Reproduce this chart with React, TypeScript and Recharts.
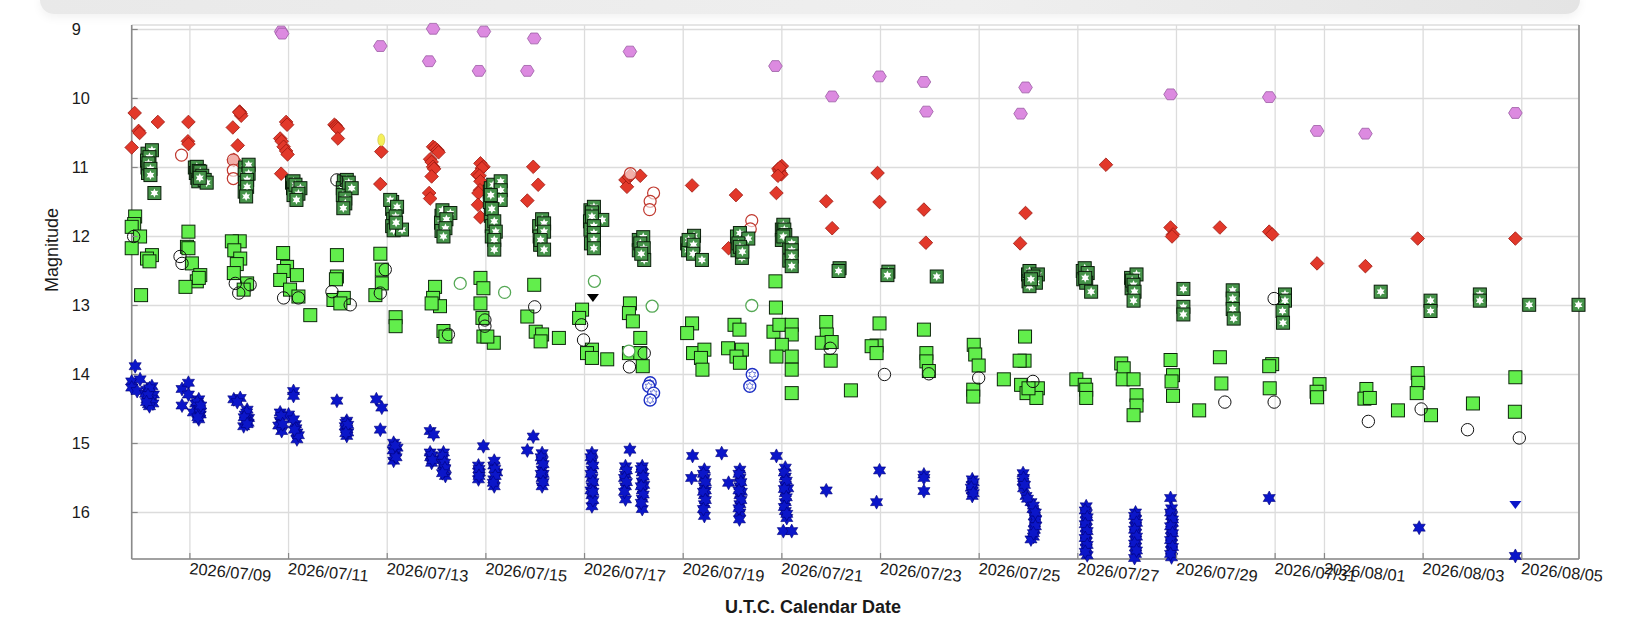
import { ScatterChart, Scatter, XAxis, YAxis, CartesianGrid } from 'recharts'

type Pt = [number, number]

// x = day of July 2026 (32 = Aug 1), y = magnitude
const xTicks = [9, 11, 13, 15, 17, 19, 21, 23, 25, 27, 29, 31, 32, 34, 36]
const xTickLabels = [
  '2026/07/09', '2026/07/11', '2026/07/13', '2026/07/15', '2026/07/17',
  '2026/07/19', '2026/07/21', '2026/07/23', '2026/07/25', '2026/07/27',
  '2026/07/29', '2026/07/31', '2026/08/01', '2026/08/03', '2026/08/05',
]
const yTicks = [9, 10, 11, 12, 13, 14, 15, 16]

const hexPts: Pt[] = [
  [10.85, 9.03], [10.87, 9.06], [12.86, 9.24], [13.93, 8.99], [13.85, 9.46], [14.96, 9.03],
  [14.86, 9.6], [15.98, 9.13], [15.84, 9.6], [17.92, 9.32], [20.87, 9.53], [22.02, 9.97],
  [22.98, 9.68], [23.88, 9.76], [23.93, 10.19], [25.94, 9.84], [25.84, 10.22], [28.88, 9.94],
  [30.88, 9.98], [31.85, 10.47], [32.83, 10.51], [35.87, 10.21],
]

const diamondPts: Pt[] = [
  [7.88, 10.21], [7.96, 10.47], [7.98, 10.5], [7.82, 10.71], [8.35, 10.34], [8.97, 10.34],
  [8.96, 10.62], [8.97, 10.66], [9.87, 10.42], [10.01, 10.19], [10.03, 10.22], [10.04, 10.25],
  [10.0, 10.2], [9.97, 10.68], [9.89, 10.89], [10.95, 10.34], [10.97, 10.38], [10.83, 10.58],
  [10.86, 10.62], [10.9, 10.7], [10.95, 10.76], [10.98, 10.81], [10.85, 11.09],
  [11.93, 10.38], [11.96, 10.4], [11.98, 10.42], [12.0, 10.44], [12.0, 10.58],
  [12.88, 10.77], [12.86, 11.24], [13.93, 10.7], [13.97, 10.72], [14.02, 10.75], [14.04, 10.78],
  [13.87, 10.88], [13.9, 10.92], [13.93, 10.99], [13.95, 11.02], [13.9, 11.13], [13.85, 11.37],
  [13.87, 11.45], [14.89, 10.94], [14.95, 10.99], [14.92, 11.01], [14.83, 11.1], [14.87, 11.12],
  [14.89, 11.2], [14.88, 11.33], [14.85, 11.37], [14.84, 11.54], [14.89, 11.72],
  [15.96, 10.99], [16.06, 11.25], [15.84, 11.48], [17.83, 11.18], [17.86, 11.28], [17.9, 11.14],
  [17.93, 11.11], [18.13, 11.12], [19.18, 11.26], [20.07, 11.4], [19.92, 12.17],
  [20.93, 11.02], [20.95, 11.05], [20.97, 11.08], [20.99, 11.1], [21.0, 10.98], [20.96, 11.0],
  [20.92, 11.12], [20.89, 11.37], [21.9, 11.49], [22.02, 11.88], [22.94, 11.08], [22.98, 11.5],
  [23.88, 11.61], [23.92, 12.09], [25.94, 11.66], [25.83, 12.1], [27.57, 10.96], [28.88, 11.87],
  [28.93, 11.97], [28.91, 12.0], [29.88, 11.87], [30.88, 11.93], [30.94, 11.97], [31.85, 12.39],
  [32.83, 12.43], [33.89, 12.03], [35.87, 12.03],
]

const redRingPts: Pt[] = [
  [8.83, 10.82], [9.88, 10.89], [9.88, 11.04], [9.88, 11.16], [17.93, 11.09], [18.4, 11.37],
  [18.33, 11.49], [18.32, 11.61], [20.39, 11.77], [20.36, 11.89],
]

const greenSquarePts: Pt[] = [
  [7.89, 11.71], [7.87, 11.82], [7.82, 11.86], [7.99, 12.0], [7.82, 12.17], [8.23, 12.27],
  [8.13, 12.32], [8.18, 12.36], [8.01, 12.85], [8.97, 11.93], [8.94, 12.15], [8.97, 12.17],
  [9.04, 12.39], [9.21, 12.56], [9.14, 12.65], [9.18, 12.6], [8.91, 12.73], [10.01, 12.07],
  [9.85, 12.07], [9.9, 12.2], [10.02, 12.32], [9.95, 12.4], [9.89, 12.53], [10.16, 12.68],
  [10.09, 12.77], [10.89, 12.24], [10.97, 12.44], [10.9, 12.5], [11.17, 12.56], [10.83, 12.63],
  [11.03, 12.77], [11.2, 12.87], [11.44, 13.14], [11.98, 12.27], [11.98, 12.58], [11.96, 12.62],
  [11.91, 12.92], [12.12, 12.89], [12.05, 12.97], [12.86, 12.25], [12.89, 12.48], [12.89, 12.68],
  [12.76, 12.85], [13.17, 13.17], [13.17, 13.3], [13.97, 12.73], [13.93, 12.89], [14.07, 13.01],
  [13.9, 12.97], [14.14, 13.37], [14.18, 13.45], [14.89, 12.6], [14.95, 12.75], [14.89, 12.97],
  [14.93, 13.18], [14.95, 13.45], [15.16, 13.54], [15.03, 13.45], [15.98, 12.7], [15.84, 13.16],
  [16.01, 13.38], [16.14, 13.42], [16.48, 13.47], [16.11, 13.52], [16.95, 13.06], [16.89, 13.18],
  [17.15, 13.64], [17.05, 13.69], [17.15, 13.76], [17.46, 13.78], [17.92, 12.97], [17.9, 13.11],
  [17.98, 13.23], [18.13, 13.47], [17.9, 13.69], [18.13, 13.69], [18.18, 13.88], [19.18, 13.26],
  [19.08, 13.4], [19.2, 13.69], [19.43, 13.64], [19.36, 13.76], [19.39, 13.93], [20.04, 13.28],
  [20.14, 13.35], [19.91, 13.62], [20.19, 13.64], [20.08, 13.74], [20.15, 13.83], [20.87, 12.65],
  [20.88, 13.03], [20.83, 13.38], [20.95, 13.28], [21.2, 13.28], [21.2, 13.42], [21.0, 13.57],
  [20.89, 13.74], [21.2, 13.74], [21.2, 13.93], [21.2, 14.27], [21.9, 13.24], [21.91, 13.42],
  [21.81, 13.54], [22.01, 13.53], [21.99, 13.8], [22.4, 14.23], [22.98, 13.26], [22.92, 13.58],
  [22.82, 13.59], [22.92, 13.69], [23.88, 13.35], [23.93, 13.69], [23.93, 13.81], [23.98, 13.95],
  [24.89, 13.57], [24.92, 13.71], [24.99, 13.87], [24.88, 14.22], [24.88, 14.32], [25.5, 14.07],
  [25.93, 13.45], [25.92, 13.8], [25.82, 13.8], [25.85, 14.15], [25.96, 14.27], [26.19, 14.2],
  [26.16, 14.34], [26.0, 14.2], [26.97, 14.07], [27.14, 14.15], [27.17, 14.22], [27.17, 14.34],
  [27.88, 13.84], [27.93, 13.91], [27.91, 14.07], [28.13, 14.07], [28.19, 14.3], [28.19, 14.45],
  [28.13, 14.59], [28.88, 13.79], [28.93, 14.01], [28.9, 14.1], [28.93, 14.31], [29.46, 14.52],
  [29.88, 13.75], [29.91, 14.13], [30.94, 13.85], [30.88, 13.88], [30.89, 14.2], [31.9, 14.14],
  [31.84, 14.25], [31.85, 14.33], [32.85, 14.21], [32.81, 14.35], [32.92, 14.34], [33.49, 14.52],
  [33.89, 13.98], [33.9, 14.12], [33.87, 14.27], [34.16, 14.59], [35.01, 14.42], [35.87, 14.04],
  [35.86, 14.54],
]

const starSquarePts: Pt[] = [
  [8.14, 10.8], [8.13, 10.9], [8.14, 11.0], [8.15, 11.08],
  [8.23, 10.75], [8.18, 10.85], [8.16, 10.94], [8.2, 11.02], [8.2, 11.11], [8.28, 11.37],
  [9.1, 11.0], [9.12, 11.08], [9.15, 11.15], [9.17, 11.2],
  [9.14, 10.99], [9.18, 11.05], [9.21, 11.06], [9.25, 11.12], [9.3, 11.18], [9.34, 11.22],
  [9.2, 11.15], [10.12, 11.0], [10.11, 11.1], [10.12, 11.22], [10.11, 11.35],
  [10.19, 10.96], [10.19, 11.09], [10.16, 11.18], [10.16, 11.28], [10.14, 11.42],
  [11.07, 11.22], [11.09, 11.3], [11.1, 11.4],
  [11.1, 11.2], [11.14, 11.25], [11.24, 11.3], [11.2, 11.38], [11.16, 11.47],
  [12.12, 11.2], [12.1, 11.3], [12.1, 11.4],
  [12.18, 11.18], [12.22, 11.22], [12.28, 11.3], [12.15, 11.45], [12.15, 11.52], [12.11, 11.59],
  [13.1, 11.5], [13.1, 11.6], [13.12, 11.75], [13.1, 11.85],
  [13.06, 11.47], [13.2, 11.57], [13.17, 11.71], [13.13, 11.91], [13.3, 11.9], [13.18, 11.8],
  [14.1, 11.7], [14.09, 11.8], [14.1, 11.92],
  [14.12, 11.62], [14.28, 11.66], [14.2, 11.75], [14.18, 11.88], [14.14, 12.0],
  [15.08, 11.35], [15.08, 11.5], [15.1, 11.7], [15.12, 11.85], [15.12, 12.0],
  [15.1, 11.3], [15.15, 11.25], [15.3, 11.2], [15.3, 11.33], [15.3, 11.47], [15.1, 11.4],
  [15.12, 11.6], [15.17, 11.78], [15.2, 11.93], [15.17, 12.05], [15.17, 12.19],
  [16.08, 11.85], [16.09, 12.0], [16.1, 12.12],
  [16.14, 11.75], [16.18, 11.81], [16.18, 11.93], [16.11, 12.05], [16.18, 12.19],
  [17.12, 11.62], [17.11, 11.78], [17.12, 11.9], [17.13, 12.1],
  [17.19, 11.57], [17.15, 11.65], [17.36, 11.76], [17.15, 11.71], [17.19, 11.85], [17.19, 11.95],
  [17.19, 12.05], [17.19, 12.17], [18.1, 12.05], [18.1, 12.2],
  [18.19, 12.01], [18.13, 12.1], [18.2, 12.17], [18.21, 12.34], [18.15, 12.25],
  [19.08, 12.1], [19.1, 12.2],
  [19.22, 11.99], [19.11, 12.05], [19.21, 12.12], [19.2, 12.25], [19.38, 12.34],
  [20.09, 12.0], [20.1, 12.2],
  [20.15, 11.95], [20.32, 12.03], [20.12, 12.1], [20.15, 12.15], [20.19, 12.31], [20.2, 12.22],
  [21.0, 11.9], [21.0, 12.05], [21.15, 12.15], [21.15, 12.35],
  [21.03, 11.83], [21.05, 11.9], [21.07, 11.98], [21.03, 12.0], [21.2, 12.1], [21.2, 12.2],
  [21.2, 12.29], [21.2, 12.43], [22.17, 12.46], [22.15, 12.5], [23.16, 12.51], [23.14, 12.56],
  [24.14, 12.58], [25.99, 12.55], [26.0, 12.65],
  [26.02, 12.5], [26.19, 12.55], [26.1, 12.58], [26.15, 12.67], [26.02, 12.72], [26.05, 12.62],
  [27.1, 12.5], [27.11, 12.62],
  [27.14, 12.46], [27.2, 12.53], [27.17, 12.67], [27.15, 12.6], [27.27, 12.8],
  [28.08, 12.6], [28.09, 12.75],
  [28.19, 12.55], [28.1, 12.64], [28.13, 12.7], [28.15, 12.8], [28.13, 12.93],
  [29.14, 12.76], [29.14, 13.02], [29.14, 13.13], [30.14, 12.78], [30.14, 12.9],
  [30.14, 13.05], [30.16, 13.19], [31.2, 12.84], [31.2, 12.93], [31.15, 13.08], [31.16, 13.25],
  [33.14, 12.8], [34.15, 12.93], [34.15, 13.08], [35.15, 12.84], [35.15, 12.93], [36.15, 12.99],
  [37.15, 12.99],
]

const blackRingPts: Pt[] = [
  [7.86, 12.0], [8.8, 12.29], [8.84, 12.39], [9.92, 12.68], [9.99, 12.82], [10.22, 12.7],
  [10.9, 12.89], [11.2, 12.89], [11.98, 11.18], [11.88, 12.8], [12.25, 12.99], [12.96, 12.48],
  [12.86, 12.82], [14.24, 13.42], [14.98, 13.21], [14.98, 13.3], [15.99, 13.02], [16.94, 13.28],
  [16.98, 13.5], [17.91, 13.89], [18.21, 13.69], [21.98, 13.62], [23.08, 14.0], [23.98, 13.99],
  [24.99, 14.05], [26.09, 14.1], [29.98, 14.4], [30.98, 14.4], [30.98, 12.9], [32.89, 14.68],
  [33.96, 14.5], [34.9, 14.8], [35.95, 14.92],
]

const greenRingPts: Pt[] = [
  [14.48, 12.68], [15.38, 12.81], [17.2, 12.65], [18.37, 13.01], [17.9, 13.66], [20.39, 13.0],
]

const blueStarPts: Pt[] = [
  [7.89, 13.88], [7.82, 14.1], [7.82, 14.19], [7.99, 14.07], [7.93, 14.24], [8.13, 14.22],
  [8.2, 14.31], [8.13, 14.36], [8.23, 14.17], [8.16, 14.43], [8.26, 14.29], [8.2, 14.4], [8.1, 14.28],
  [8.18, 14.2], [8.22, 14.35], [8.15, 14.3], [8.25, 14.42], [8.18, 14.46], [8.12, 14.4],
  [8.84, 14.21], [8.97, 14.12], [8.97, 14.29], [8.84, 14.45], [9.18, 14.36], [9.14, 14.48],
  [9.21, 14.58], [9.07, 14.55], [9.18, 14.65], [9.12, 14.42], [9.2, 14.5],
  [9.15, 14.4], [9.2, 14.55], [9.16, 14.62], [9.22, 14.45],
  [9.89, 14.36], [10.02, 14.34], [9.96, 14.4], [10.16, 14.51], [10.19, 14.63], [10.09, 14.75],
  [10.12, 14.58], [10.14, 14.68], [10.15, 14.55], [10.18, 14.7], [10.1, 14.62], [10.16, 14.72],
  [10.83, 14.55], [10.83, 14.67], [10.86, 14.82], [10.8, 14.74],
  [11.0, 14.58], [11.14, 14.72], [11.17, 14.84], [11.17, 14.94], [11.1, 14.65], [11.1, 14.24],
  [11.1, 14.31], [10.85, 14.6], [10.88, 14.72], [11.15, 14.78], [11.2, 14.88], [11.12, 14.8],
  [11.98, 14.38], [12.18, 14.67], [12.15, 14.75], [12.18, 14.79], [12.18, 14.89],
  [12.2, 14.84], [12.16, 14.7], [12.2, 14.73], [12.16, 14.85],
  [12.78, 14.36], [12.89, 14.48], [12.86, 14.8], [13.13, 14.99], [13.2, 15.06],
  [13.17, 15.13], [13.13, 15.25], [13.15, 15.18], [13.12, 15.1], [13.18, 15.2], [13.16, 15.03],
  [13.87, 14.82], [13.94, 14.87], [13.87, 15.13],
  [13.9, 15.28], [13.88, 15.2], [14.11, 15.23], [14.14, 15.13], [14.14, 15.32], [14.18, 15.47],
  [14.15, 15.4], [13.9, 15.17], [13.92, 15.24], [14.12, 15.18], [14.16, 15.28], [14.17, 15.36],
  [14.12, 15.43], [14.95, 15.04], [14.85, 15.32], [14.85, 15.52], [14.87, 15.42], [15.16, 15.32],
  [15.16, 15.52], [15.22, 15.42], [15.17, 15.62], [15.17, 15.25], [14.86, 15.37], [14.86, 15.47],
  [15.18, 15.37], [15.19, 15.47], [15.15, 15.57], [15.96, 14.9], [15.84, 15.1],
  [16.14, 15.14], [16.14, 15.25], [16.14, 15.38], [16.14, 15.5], [16.14, 15.62], [16.16, 15.44],
  [16.12, 15.2], [16.16, 15.3], [16.12, 15.44], [16.16, 15.56],
  [17.15, 15.14], [17.15, 15.25], [17.15, 15.38], [17.15, 15.5], [17.15, 15.62], [17.15, 15.75],
  [17.15, 15.91], [17.17, 15.82], [17.13, 15.2], [17.17, 15.32], [17.13, 15.44], [17.17, 15.56],
  [17.13, 15.68], [17.17, 15.7], [17.92, 15.09], [17.83, 15.33], [17.83, 15.45], [17.83, 15.62],
  [17.83, 15.81], [17.85, 15.39], [17.81, 15.5], [17.85, 15.56], [17.81, 15.7],
  [18.17, 15.33], [18.17, 15.42], [18.17, 15.55], [18.17, 15.68], [18.17, 15.8],
  [18.17, 15.95], [18.2, 15.6], [18.15, 15.37], [18.19, 15.48], [18.15, 15.62], [18.19, 15.74],
  [18.15, 15.86], [19.19, 15.18], [19.17, 15.5], [19.43, 15.38], [19.43, 15.5],
  [19.43, 15.62], [19.43, 15.75], [19.43, 15.88], [19.43, 16.05], [19.45, 15.68],
  [19.41, 15.44], [19.45, 15.56], [19.41, 15.7], [19.45, 15.82], [19.41, 15.95], [19.78, 15.14],
  [19.92, 15.57], [20.15, 15.38], [20.15, 15.5], [20.15, 15.62], [20.15, 15.75], [20.15, 15.88],
  [20.15, 16.0], [20.14, 16.1], [20.18, 15.7], [20.13, 15.44], [20.17, 15.56], [20.13, 15.68],
  [20.17, 15.82], [20.13, 15.94], [20.89, 15.18], [21.07, 15.35], [21.07, 15.48],
  [21.07, 15.6], [21.07, 15.72], [21.07, 15.85], [21.07, 15.98], [21.1, 16.08], [21.03, 16.27],
  [21.2, 16.27], [21.12, 15.65], [21.05, 15.42], [21.09, 15.54], [21.05, 15.66], [21.09, 15.78],
  [21.05, 15.92], [21.1, 16.02], [21.9, 15.68], [22.98, 15.39], [22.92, 15.85], [23.88, 15.45],
  [23.88, 15.5], [23.88, 15.69], [24.86, 15.52], [24.86, 15.6], [24.86, 15.68], [24.86, 15.76],
  [24.88, 15.56], [24.84, 15.64], [24.88, 15.72],
  [25.89, 15.43], [25.89, 15.55], [25.9, 15.65], [25.95, 15.76], [26.05, 15.85], [26.09, 15.95],
  [26.12, 16.05], [26.12, 16.15], [26.12, 16.25], [26.1, 16.35], [26.05, 16.39], [26.15, 16.1],
  [25.9, 15.5], [25.92, 15.6], [25.98, 15.8], [26.1, 15.9], [26.14, 16.0], [26.14, 16.2], [26.1, 16.3],
  [27.17, 15.91], [27.17, 16.02], [27.17, 16.12], [27.17, 16.22], [27.17, 16.32], [27.17, 16.42],
  [27.17, 16.52], [27.19, 16.62], [27.15, 15.97], [27.19, 16.07], [27.15, 16.17], [27.19, 16.27],
  [27.15, 16.37], [27.19, 16.47], [27.15, 16.57],
  [28.17, 16.0], [28.17, 16.1], [28.17, 16.2], [28.17, 16.3],
  [28.17, 16.4], [28.17, 16.5], [28.17, 16.6], [28.15, 16.66], [28.15, 16.05], [28.19, 16.15],
  [28.15, 16.25], [28.19, 16.35], [28.15, 16.45], [28.19, 16.55],
  [28.88, 15.79], [28.9, 15.94],
  [28.9, 16.05], [28.92, 16.15], [28.9, 16.25], [28.9, 16.35], [28.9, 16.45], [28.9, 16.55],
  [28.9, 16.65], [28.88, 16.0], [28.92, 16.1], [28.88, 16.2], [28.92, 16.3], [28.88, 16.4],
  [28.92, 16.5], [28.88, 16.6], [30.88, 15.79], [33.92, 16.22], [35.87, 16.63],
]

const blueRingPts: Pt[] = [
  [18.33, 14.12], [18.3, 14.17], [18.4, 14.27], [18.33, 14.37], [20.4, 14.0], [20.35, 14.17],
]
const blueTrianglePts: Pt[] = [[35.87, 15.89]]
const blackTrianglePts: Pt[] = [[17.17, 12.89]]
const yellowPts: Pt[] = [[12.88, 10.6]]

const toRows = (a: Pt[]) => a.map(([x, y]) => ({ x, y }))

const FONT = '"Liberation Sans", Arial, sans-serif'

function starPath(cx: number, cy: number, ro: number, ri: number) {
  let d = ''
  for (let i = 0; i < 12; i++) {
    const r = i % 2 ? ri : ro
    const a = -Math.PI / 2 + (i * Math.PI) / 6
    d += (i ? 'L' : 'M') + (cx + r * Math.cos(a)).toFixed(2) + ' ' + (cy + r * Math.sin(a)).toFixed(2)
  }
  return d + 'Z'
}

function hexPath(cx: number, cy: number, r: number) {
  let d = ''
  for (let i = 0; i < 6; i++) {
    const a = (i * Math.PI) / 3
    d += (i ? 'L' : 'M') + (cx + r * Math.cos(a)).toFixed(2) + ' ' + (cy + r * 0.92 * Math.sin(a)).toFixed(2)
  }
  return d + 'Z'
}

const Hex = (p: any) => <path d={hexPath(p.cx, p.cy, 6.8)} fill="#dc8ae0" stroke="#9b5ca3" strokeWidth={0.8} />
const Diamond = (p: any) => (
  <path d={`M${p.cx} ${p.cy - 6.8}L${p.cx + 6.8} ${p.cy}L${p.cx} ${p.cy + 6.8}L${p.cx - 6.8} ${p.cy}Z`}
    fill="#e2382a" stroke="#9c1810" strokeWidth={0.8} />
)
const RedRing = (p: any) => <circle cx={p.cx} cy={p.cy} r={6} fill="#fff" fillOpacity={0.6} stroke="#c0392f" strokeWidth={1.2} />
const GreenSquare = (p: any) => (
  <rect x={p.cx - 6.5} y={p.cy - 6.5} width={13} height={13} fill="#62ee4c" stroke="#0c260a" strokeWidth={1} />
)
const StarSquare = (p: any) => (
  <g>
    <rect x={p.cx - 6.5} y={p.cy - 6.5} width={13} height={13} fill="#46944a" stroke="#0a1c0a" strokeWidth={1} />
    <path d={starPath(p.cx, p.cy, 4.6, 2.4)} fill="#ffffff" />
  </g>
)
const BlackRing = (p: any) => <circle cx={p.cx} cy={p.cy} r={6.2} fill="none" stroke="#111" strokeWidth={1} />
const GreenRing = (p: any) => <circle cx={p.cx} cy={p.cy} r={6} fill="#fff" stroke="#55a855" strokeWidth={1.3} />
const BlueStar = (p: any) => <path d={starPath(p.cx, p.cy, 7, 3.9)} fill="#0b16c9" stroke="#00007a" strokeWidth={0.6} />
const BlueRing = (p: any) => (
  <g>
    <circle cx={p.cx} cy={p.cy} r={6} fill="#fff" stroke="#1d2fc4" strokeWidth={1.4} />
    <path d={starPath(p.cx, p.cy, 4, 2.2)} fill="#fff" stroke="#1d2fc4" strokeWidth={0.6} />
  </g>
)
const BlueTriangle = (p: any) => (
  <path d={`M${p.cx - 6} ${p.cy - 4}L${p.cx + 6} ${p.cy - 4}L${p.cx} ${p.cy + 4}Z`} fill="#0b16c9" />
)
const BlackTriangle = (p: any) => (
  <path d={`M${p.cx - 6} ${p.cy - 4}L${p.cx + 6} ${p.cy - 4}L${p.cx} ${p.cy + 4}Z`} fill="#000" />
)
const Yellow = (p: any) => <ellipse cx={p.cx} cy={p.cy} rx={3.5} ry={6} fill="#f5f05a" stroke="#c8c040" strokeWidth={0.6} />

const LeftTick = (p: any) => (
  <g>
    <line x1={p.x} y1={p.y} x2={p.x + 6} y2={p.y} stroke="#888" strokeWidth={1.2} />
    <text x={p.x - 60} y={p.y} dy={6} fontSize={16.4} fontFamily={FONT} fill="#1a1a1a">{p.payload.value}</text>
  </g>
)
const RightTick = (p: any) => (
  <line x1={p.x - 6} y1={p.y} x2={p.x} y2={p.y} stroke="#888" strokeWidth={1.2} />
)
const BottomTick = (p: any) => {
  const i = xTicks.indexOf(p.payload.value)
  const tx = p.x - 1
  const ty = p.y + 15
  return (
    <g>
      <line x1={p.x} y1={p.y} x2={p.x} y2={p.y - 6} stroke="#888" strokeWidth={1.2} />
      <text x={tx} y={ty} transform={`rotate(5.5 ${tx} ${ty})`} fontSize={16.4} fontFamily={FONT} fill="#1a1a1a">
        {xTickLabels[i]}
      </text>
    </g>
  )
}

const series: { pts: Pt[]; shape: (p: any) => any }[] = [
  { pts: hexPts, shape: Hex },
  { pts: diamondPts, shape: Diamond },
  { pts: redRingPts, shape: RedRing },
  { pts: greenSquarePts, shape: GreenSquare },
  { pts: starSquarePts, shape: StarSquare },
  { pts: blackRingPts, shape: BlackRing },
  { pts: greenRingPts, shape: GreenRing },
  { pts: blueStarPts, shape: BlueStar },
  { pts: blueRingPts, shape: BlueRing },
  { pts: blueTrianglePts, shape: BlueTriangle },
  { pts: blackTrianglePts, shape: BlackTriangle },
  { pts: yellowPts, shape: Yellow },
]

export default function App() {
  return (
    <div style={{ position: 'absolute', left: 0, top: 0, width: 1636, height: 633, background: '#fff', overflow: 'hidden' }}>
      <div style={{
        position: 'absolute', left: 40, top: -14, width: 1540, height: 28, borderRadius: 16,
        background: 'linear-gradient(90deg, #e9e9e9 0%, #efefef 60%, #e4e4e4 100%)',
        boxShadow: '0 4px 10px rgba(0,0,0,0.05)',
      }} />
      <ScatterChart width={1636} height={633} margin={{ top: 25, right: 56, bottom: 0, left: 71.7 }}>
        <CartesianGrid yAxisId="l" stroke="#dcdcdc" strokeWidth={1.3} />
        <XAxis
          type="number" dataKey="x" domain={[7.82, 37.16]} ticks={xTicks} interval={0}
          height={74} tickSize={0} tickMargin={0} tick={BottomTick}
          axisLine={{ stroke: '#8a8a8a', strokeWidth: 1.6 }} tickLine={false}
        />
        <YAxis
          yAxisId="l" type="number" dataKey="y" domain={[8.935, 16.674]} ticks={yTicks} interval={0}
          reversed width={60} tickSize={0} tickMargin={0} tick={LeftTick}
          axisLine={{ stroke: '#8a8a8a', strokeWidth: 1.6 }} tickLine={false}
        />
        <YAxis
          yAxisId="r" orientation="right" type="number" dataKey="y" domain={[8.935, 16.674]} ticks={yTicks}
          interval={0} reversed width={1} tickSize={0} tickMargin={0} tick={RightTick}
          axisLine={{ stroke: '#8a8a8a', strokeWidth: 1.6 }} tickLine={false}
        />
        {series.map((s, i) => (
          <Scatter key={i} yAxisId="l" data={toRows(s.pts)} shape={s.shape} isAnimationActive={false} />
        ))}
      </ScatterChart>
      <svg width={1636} height={633} style={{ position: 'absolute', left: 0, top: 0, pointerEvents: 'none' }}>
        <text x={52} y={250} transform="rotate(-90 52 250)" textAnchor="middle" dominantBaseline="central"
          fontSize={18} fontFamily={FONT} fill="#1a1a1a">Magnitude</text>
        <text x={813} y={613} textAnchor="middle" fontSize={18} fontWeight="bold" fontFamily={FONT} fill="#1a1a1a">
          U.T.C. Calendar Date
        </text>
      </svg>
    </div>
  )
}
